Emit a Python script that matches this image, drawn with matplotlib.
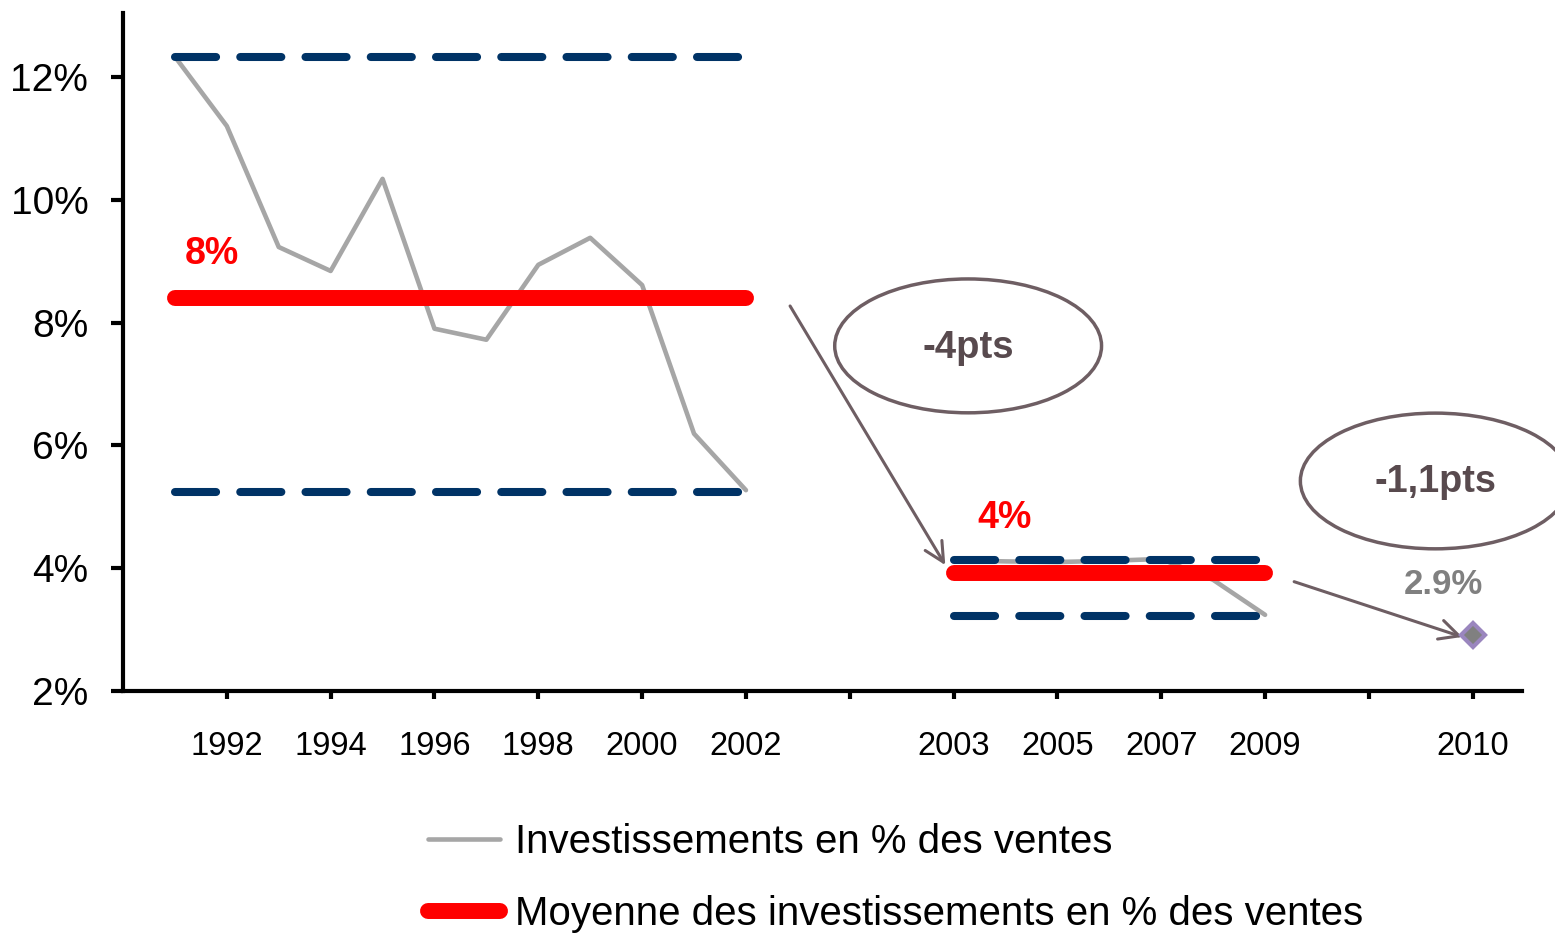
import matplotlib.pyplot as plt
from matplotlib.patches import Ellipse
import numpy as np

plt.rcParams['font.family'] = ['Liberation Sans', 'DejaVu Sans']

# categories along the x axis (blank ones are gaps)
categories = ['1991', '1992', '1993', '1994', '1995', '1996', '1997', '1998',
              '1999', '2000', '2001', '2002', '', '', '',
              '2003', '2004', '2005', '2006', '2007', '2008', '2009', '', '', '', '2010']
tick_labels = ['1992', '1994', '1996', '1998', '2000', '2002', '',
               '2003', '2005', '2007', '2009', '', '2010']

invest_91_02 = [12.33, 11.2, 9.23, 8.84, 10.34, 7.9, 7.72, 8.94, 9.38, 8.61, 6.19, 5.27]
invest_03_09 = [4.13, 4.11, 4.1, 4.12, 4.15, 3.81, 3.24]
invest_2010 = 2.91

mean_91_02 = 8.4
mean_03_09 = 3.92
max_91_02, min_91_02 = 12.33, 5.24
max_03_09, min_03_09 = 4.13, 3.22

gray = '#a6a6a6'
red = '#ff0000'
navy = '#003366'
brown = '#6e5e63'

x = np.arange(len(categories))
i1 = x[0:12]
i2 = x[15:22]
i3 = x[25]

fig = plt.figure(figsize=(15.55, 9.33), dpi=100)
ax = fig.add_axes([0.0791, 0.2594, 0.8997, 0.7266])

ax.plot(i1, invest_91_02, color=gray, lw=3.3, zorder=2, label='Investissements en % des ventes',
        solid_capstyle='round')
ax.plot(i2, invest_03_09, color=gray, lw=3.3, zorder=2, solid_capstyle='round')

ax.plot([i1[0], i1[-1]], [mean_91_02] * 2, color=red, lw=11.5, solid_capstyle='round', zorder=3,
        label='Moyenne des investissements en % des ventes')
ax.plot([i2[0], i2[-1]], [mean_03_09] * 2, color=red, lw=11.5, solid_capstyle='round', zorder=3)

for xs, lo, hi in [(i1, min_91_02, max_91_02), (i2, min_03_09, max_03_09)]:
    for v in (lo, hi):
        ax.plot([xs[0], xs[-1]], [v, v], color=navy, lw=5.8, dashes=(5.1, 3.0),
                dash_capstyle='round', zorder=4)

ax.plot([i3], [invest_2010], marker='D', markersize=12, markerfacecolor='#808080',
        markeredgecolor='#9a86be', markeredgewidth=3, zorder=5)

ax.text(0.71, 9.12, '8%', color=red, fontsize=27, fontweight='bold', ha='center', va='center')
ax.text(15.99, 4.82, '4%', color=red, fontsize=27, fontweight='bold', ha='center', va='center')
ax.text(24.43, 3.73, '2.9%', color='#808080', fontsize=25, fontweight='bold', ha='center', va='center')

ax.add_patch(Ellipse((15.28, 7.62), 5.14, 2.18, fill=False, edgecolor=brown, lw=2.5, zorder=6))
ax.text(15.28, 7.58, '-4pts', color='#584a4e', fontsize=27.5, fontweight='bold',
        ha='center', va='center', zorder=7)
ax.add_patch(Ellipse((24.28, 5.42), 5.2, 2.21, fill=False, edgecolor=brown, lw=2.5, zorder=6,
                     clip_on=False))
ax.text(24.28, 5.4, '-1,1pts', color='#584a4e', fontsize=27.3, fontweight='bold',
        ha='center', va='center', zorder=7)

ax.annotate('', xy=(14.84, 4.05), xytext=(11.85, 8.27),
            arrowprops=dict(arrowstyle='->', color=brown, lw=2.2, mutation_scale=35,
                            shrinkA=0, shrinkB=0))
ax.annotate('', xy=(24.8, 2.88), xytext=(21.56, 3.78),
            arrowprops=dict(arrowstyle='->', color=brown, lw=2.2, mutation_scale=35,
                            shrinkA=0, shrinkB=0), annotation_clip=False)

ax.set_xlim(-1, 25.95)
ax.set_ylim(2, 13.04)
ax.set_xticks(x[1::2])
ax.set_xticklabels(tick_labels)
yt = [2, 4, 6, 8, 10, 12]
ax.set_yticks(yt)
ax.set_yticklabels([f'{v}%' for v in yt])

for s in ['top', 'right']:
    ax.spines[s].set_visible(False)
for s in ['left', 'bottom']:
    ax.spines[s].set_linewidth(3)
ax.tick_params(axis='y', labelsize=28, length=9, width=3, pad=16)
ax.tick_params(axis='x', labelsize=23.5, length=6, width=3, pad=23)

fig.legend(loc='upper left', bbox_to_anchor=(0.275, 0.118), frameon=False, fontsize=29,
           handlelength=1.8, handletextpad=0.37, labelspacing=0.85, borderpad=0, borderaxespad=0)

fig.savefig('out.png', dpi=100)
